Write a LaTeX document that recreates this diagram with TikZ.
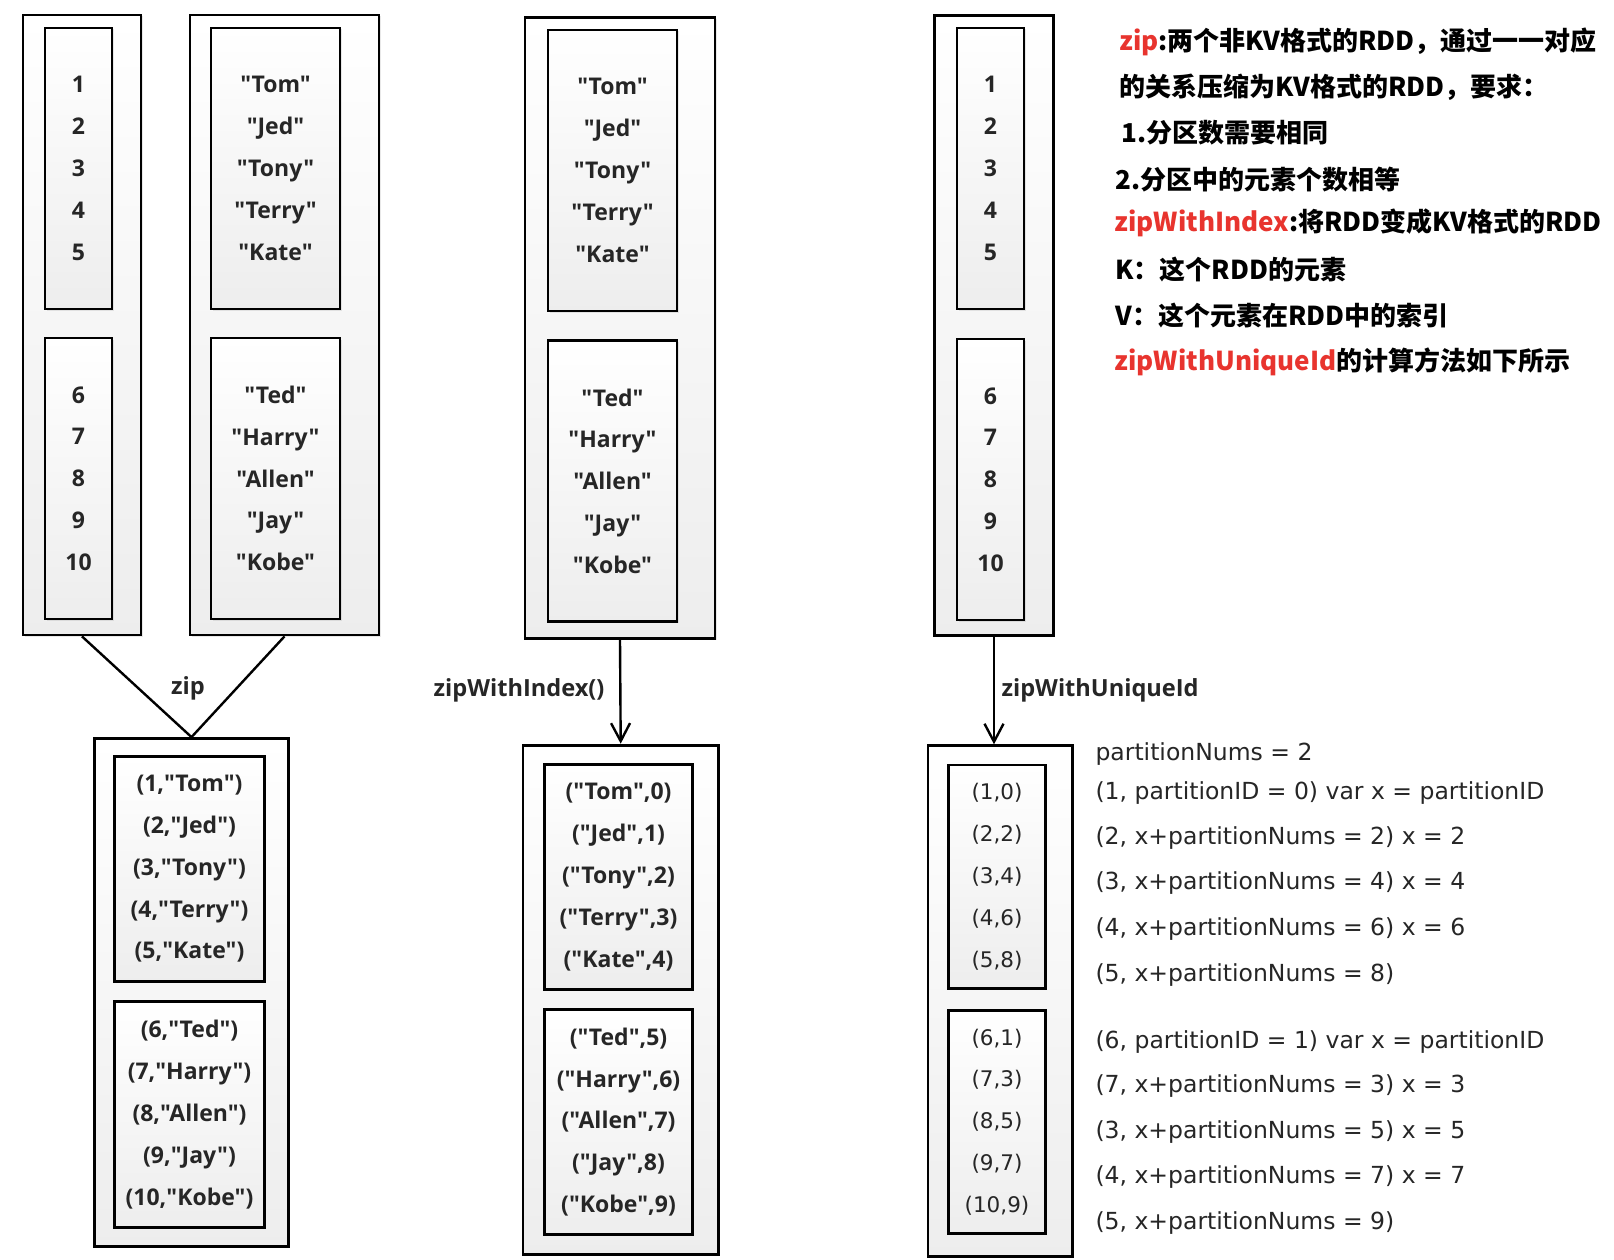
\documentclass[tikz,border=0pt]{standalone}
\usepackage{fontspec}
\newfontfamily\boxfont{Open Sans}
\newfontfamily\calcfont{DejaVu Sans}
\newfontfamily\cjkfont{Noto Sans CJK SC}
\usetikzlibrary{arrows.meta,shadows}

\definecolor{zipred}{RGB}{232,52,46}
\definecolor{inkgray}{RGB}{38,38,38}

\tikzset{
  rddbox/.style={draw=black, line width=2.8pt, top color=white, bottom color=black!7,
    drop shadow={opacity=0.18, shadow xshift=1.5pt, shadow yshift=-1.5pt}},
  partbox/.style={rddbox, align=center, text=inkgray,
    font=\boxfont\bfseries\fontsize{23pt}{41.8pt}\selectfont},
  uidbox/.style={partbox, font=\calcfont\mdseries\fontsize{21.5pt}{41.8pt}\selectfont},
  oplabel/.style={text=inkgray, font=\boxfont\bfseries\fontsize{23.6pt}{24pt}\selectfont},
  note/.style={anchor=west, text=black, font=\cjkfont\bfseries\fontsize{26pt}{26pt}\selectfont},
  calcline/.style={anchor=west, text=inkgray, font=\calcfont\fontsize{23.5pt}{23.5pt}\selectfont},
  link/.style={line width=2.4pt}
}

\begin{document}
\begin{tikzpicture}[x=1pt,y=-1pt]
  \path[use as bounding box, fill=white] (0,0) rectangle (1614,1260);

  % source RDDs
  \node[rddbox, minimum width=118pt, minimum height=620pt] (numsA) at (82,325) {};
  \node[partbox, minimum width=67pt, minimum height=281pt] (numsA1) at (78.5,168.5) {1\\2\\3\\4\\5};
  \node[partbox, minimum width=67pt, minimum height=281pt] (numsA2) at (78.5,478.5) {6\\7\\8\\9\\10};

  \node[rddbox, minimum width=189pt, minimum height=620pt] (namesB) at (284.5,325) {};
  \node[partbox, minimum width=129pt, minimum height=281pt] (namesB1) at (275.5,168.5) {"Tom"\\"Jed"\\"Tony"\\"Terry"\\"Kate"};
  \node[partbox, minimum width=129pt, minimum height=281pt] (namesB2) at (275.5,478.5) {"Ted"\\"Harry"\\"Allen"\\"Jay"\\"Kobe"};

  \node[rddbox, minimum width=190pt, minimum height=621pt] (namesC) at (620,328) {};
  \node[partbox, minimum width=129pt, minimum height=281pt] (namesC1) at (612.5,170.5) {"Tom"\\"Jed"\\"Tony"\\"Terry"\\"Kate"};
  \node[partbox, minimum width=129pt, minimum height=281pt] (namesC2) at (612.5,481) {"Ted"\\"Harry"\\"Allen"\\"Jay"\\"Kobe"};

  \node[rddbox, minimum width=119.5pt, minimum height=620pt] (numsD) at (994,325.5) {};
  \node[partbox, minimum width=67pt, minimum height=281pt] (numsD1) at (990.5,168.5) {1\\2\\3\\4\\5};
  \node[partbox, minimum width=67pt, minimum height=281pt] (numsD2) at (990.5,479.5) {6\\7\\8\\9\\10};

  % zip
  \node[rddbox, minimum width=194pt, minimum height=508pt] (zipE) at (191.5,992.5) {};
  \node[partbox, minimum width=150pt, minimum height=225.5pt] (zipE1) at (189.5,869) {(1,"Tom")\\(2,"Jed")\\(3,"Tony")\\(4,"Terry")\\(5,"Kate")};
  \node[partbox, minimum width=150pt, minimum height=225.5pt] (zipE2) at (189.5,1114.5) {(6,"Ted")\\(7,"Harry")\\(8,"Allen")\\(9,"Jay")\\(10,"Kobe")};
  \draw[link] (numsA.south) -- (zipE.north);
  \draw[link] (namesB.south) -- (zipE.north);
  \node[oplabel] (zipLbl) at (188,688) {zip};

  % zipWithIndex
  \node[rddbox, minimum width=195.5pt, minimum height=509pt] (idxF) at (620.7,999.6) {};
  \node[partbox, minimum width=148.5pt, minimum height=224.5pt] (idxF1) at (618.5,877) {("Tom",0)\\("Jed",1)\\("Tony",2)\\("Terry",3)\\("Kate",4)};
  \node[partbox, minimum width=148.5pt, minimum height=224.5pt] (idxF2) at (618.5,1122) {("Ted",5)\\("Harry",6)\\("Allen",7)\\("Jay",8)\\("Kobe",9)};
  \draw[link, -{Straight Barb[length=18pt,width=19pt]}] (namesC.south) -- (idxF.north);
  \node[oplabel, anchor=east] (idxLbl) at (608,690) {zipWithIndex()};

  % zipWithUniqueId
  \node[rddbox, minimum width=144.5pt, minimum height=511pt] (uidG) at (1000.2,1001.2) {};
  \node[uidbox, minimum width=97.7pt, minimum height=223.3pt] (uidG1) at (997,876.7) {(1,0)\\(2,2)\\(3,4)\\(4,6)\\(5,8)};
  \node[uidbox, minimum width=97.7pt, minimum height=223.3pt] (uidG2) at (997,1122) {(6,1)\\(7,3)\\(8,5)\\(9,7)\\(10,9)};
  \draw[link, -{Straight Barb[length=18pt,width=19pt]}] (numsD.south) -- (numsD.south |- uidG.north);
  \node[oplabel, anchor=west] (uidLbl) at (998,690) {zipWithUniqueId};

  % notes
  \node[note] (note1) at (1116,42) {{\color{zipred}zip}:两个非KV格式的RDD，通过一一对应};
  \node[note] (note2) at (1116,87) {的关系压缩为KV格式的RDD，要求：};
  \node[note] (note3) at (1118,133) {1.分区数需要相同};
  \node[note] (note4) at (1112,180) {2.分区中的元素个数相等};
  \node[note] (note5) at (1111,223) {{\color{zipred}zipWithIndex}:将RDD变成KV格式的RDD};
  \node[note] (note6) at (1112,270) {K：这个RDD的元素};
  \node[note] (note7) at (1112,316) {V：这个元素在RDD中的索引};
  \node[note] (note8) at (1111,362) {{\color{zipred}zipWithUniqueId}的计算方法如下所示};

  % unique id steps
  \foreach \y/\txt [count=\i] in {754/{partitionNums = 2},
      793/{(1, partitionID = 0) var x = partitionID},
      838/{(2, x+partitionNums = 2) x = 2},
      883/{(3, x+partitionNums = 4) x = 4},
      929/{(4, x+partitionNums = 6) x = 6},
      975/{(5, x+partitionNums = 8)},
      1042/{(6, partitionID = 1) var x = partitionID},
      1086/{(7, x+partitionNums = 3) x = 3},
      1132/{(3, x+partitionNums = 5) x = 5},
      1177/{(4, x+partitionNums = 7) x = 7},
      1223/{(5, x+partitionNums = 9)}}
    \node[calcline] (uid\i) at (1092,\y) {\txt};
\end{tikzpicture}
\end{document}
